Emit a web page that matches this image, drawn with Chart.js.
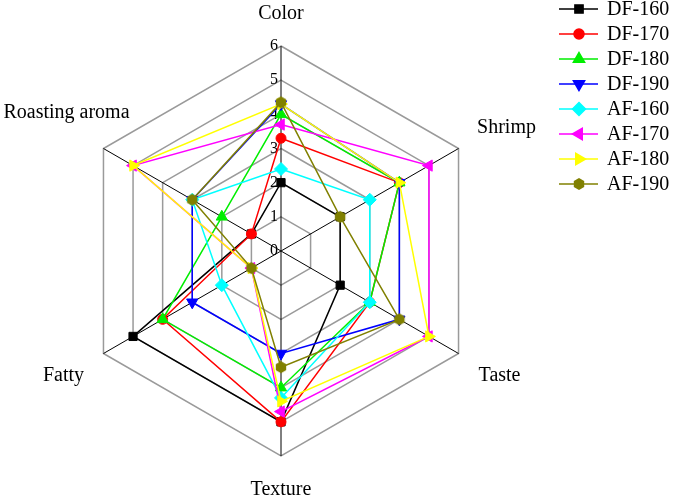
<!DOCTYPE html>
<html lang="en">
<head>
<meta charset="UTF-8">
<title>Sensory radar</title>
<script src="https://cdn.jsdelivr.net/npm/chart.js@4.4.0/dist/chart.umd.min.js"></script>
<style>
    body { margin: 0; background: #fff; }
    #wrap { width: 675px; height: 498px; position: relative; }
</style>
</head>
<body>
<div id="wrap"><canvas id="radarChart"></canvas></div>
<script>
// attributes, clockwise from the top
const attributes = ['Color', 'Shrimp', 'Taste', 'Texture', 'Fatty', 'Roasting aroma'];
const tickValues = [0, 1, 2, 3, 4, 5, 6];

const seriesNames = ['DF-160', 'DF-170', 'DF-180', 'DF-190', 'AF-160', 'AF-170', 'AF-180', 'AF-190'];
const df160 = [2.0, 2, 2, 5.0, 5, 1];
const df170 = [3.3, 4, 3, 5.0, 4, 1];
const df180 = [4.0, 4, 3, 4.0, 4, 2];
const df190 = [4.3, 4, 4, 3.0, 3, 3];
const af160 = [2.4, 3, 3, 4.3, 2, 3];
const af170 = [3.7, 5, 5, 4.7, 1, 5];
const af180 = [4.3, 4, 5, 4.4, 1, 5];
const af190 = [4.35, 2, 4, 3.4, 1, 3];
const seriesValues = [df160, df170, df180, df190, af160, af170, af180, af190];

// look
const colors = ['#000000', '#ff0000', '#00ee00', '#0000ff', '#00ffff', '#ff00ff', '#ffff00', '#808000'];
const FONT = '"Liberation Serif", "Times New Roman", serif';

function hexagonImage(color, r) {
    const c = document.createElement('canvas');
    c.width = c.height = 2 * r + 2;
    const g = c.getContext('2d');
    g.fillStyle = color;
    g.beginPath();
    for (let k = 0; k < 6; k++) {
        const a = Math.PI / 6 + k * Math.PI / 3;
        const px = r + 1 + r * Math.cos(a), py = r + 1 + r * Math.sin(a);
        k ? g.lineTo(px, py) : g.moveTo(px, py);
    }
    g.closePath();
    g.fill();
    return c;
}

const markers = [
    { style: 'rect', rot: 0, r: 5.8 },
    { style: 'circle', rot: 0, r: 5 },
    { style: 'triangle', rot: 0, r: 6.5 },
    { style: 'triangle', rot: 180, r: 6.5 },
    { style: 'rectRot', rot: 0, r: 6.5 },
    { style: 'triangle', rot: 270, r: 6.5 },
    { style: 'triangle', rot: 90, r: 6.5 },
    { style: hexagonImage('#808000', 6), rot: 0, r: 6 }
];

// label offsets from the outer vertex (text centre)
const labelOffsets = [[0, -32], [48, -21], [41, 22], [0, 34], [-40, 22], [-37, -36]];

const radarDecor = {
    id: 'radarDecor',
    beforeDatasetsDraw(chart) {
        const ctx = chart.ctx, s = chart.scales.r;
        ctx.save();
        ctx.fillStyle = '#000';
        ctx.font = '16px ' + FONT;
        ctx.textAlign = 'right';
        ctx.textBaseline = 'middle';
        tickValues.forEach(v => {
            const p = s.getPointPositionForValue(0, v);
            ctx.fillText(String(v), p.x - 3, p.y);
        });
        ctx.font = '20px ' + FONT;
        ctx.textAlign = 'center';
        attributes.forEach((name, i) => {
            const p = s.getPointPositionForValue(i, s.max);
            ctx.fillText(name, p.x + labelOffsets[i][0], p.y + labelOffsets[i][1]);
        });
        ctx.restore();
    },
    afterDraw(chart) {
        // legend: line + marker + name
        const ctx = chart.ctx;
        ctx.save();
        ctx.font = '20px ' + FONT;
        ctx.textBaseline = 'middle';
        ctx.textAlign = 'left';
        seriesNames.forEach((name, i) => {
            const y = 9 + i * 25;
            ctx.strokeStyle = colors[i];
            ctx.fillStyle = colors[i];
            ctx.lineWidth = 1.5;
            ctx.beginPath();
            ctx.moveTo(559, y);
            ctx.lineTo(598, y);
            ctx.stroke();
            const m = markers[i];
            Chart.helpers.drawPoint(ctx, { pointStyle: m.style, rotation: m.rot, radius: m.r, borderWidth: 1 }, 579, y);
            ctx.fillStyle = '#000';
            ctx.fillText(name, 607, y + 1);
        });
        ctx.restore();
    }
};

new Chart(document.getElementById('radarChart'), {
    type: 'radar',
    data: {
        labels: attributes,
        datasets: seriesNames.map((name, i) => ({
            label: name,
            data: seriesValues[i],
            borderColor: colors[i],
            backgroundColor: colors[i],
            pointBackgroundColor: colors[i],
            pointBorderColor: colors[i],
            pointStyle: markers[i].style,
            rotation: markers[i].rot,
            pointRadius: markers[i].r,
            pointHoverRadius: markers[i].r,
            pointBorderWidth: 1,
            borderWidth: 1.5,
            fill: false,
            order: seriesNames.length - i
        }))
    },
    options: {
        responsive: true,
        maintainAspectRatio: false,
        animation: false,
        layout: { padding: { left: 76, right: 189, top: 46, bottom: 42 } },
        plugins: { legend: { display: false }, tooltip: { enabled: false } },
        scales: {
            r: {
                min: 0,
                max: 6,
                ticks: { display: false, stepSize: 1 },
                pointLabels: { display: false },
                grid: { color: '#9a9a9a', lineWidth: 1.5 },
                angleLines: { color: '#000', lineWidth: 1 }
            }
        }
    },
    plugins: [radarDecor]
});
</script>
</body>
</html>
